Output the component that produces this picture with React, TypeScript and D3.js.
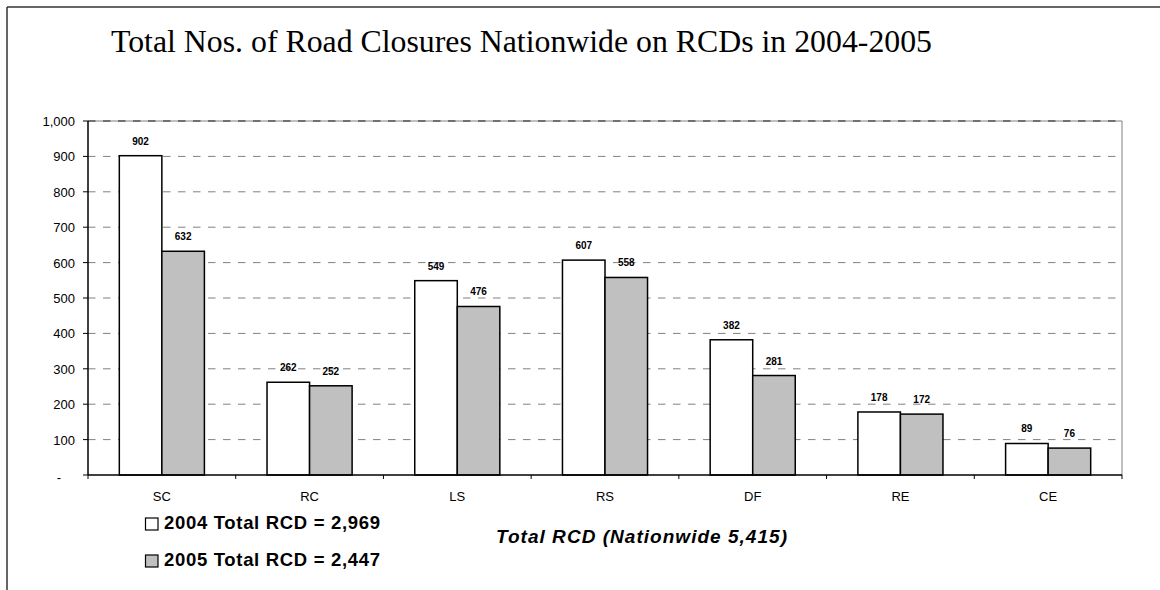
import React from "react";
import * as d3 from "d3";

const categories = ["SC", "RC", "LS", "RS", "DF", "RE", "CE"];
const series2004 = [902, 262, 549, 607, 382, 178, 89];
const series2005 = [632, 252, 476, 558, 281, 172, 76];
const yTicks = [0, 100, 200, 300, 400, 500, 600, 700, 800, 900, 1000];
const seriesNames = ["2004 Total RCD = 2,969", "2005 Total RCD = 2,447"];
const titleText = "Total Nos. of Road Closures Nationwide on RCDs in 2004-2005";
const axisTitle = "Total RCD (Nationwide 5,415)";

const W = 1160;
const H = 590;
const plot = { left: 88, right: 1122, top: 121, bottom: 475 };
const SANS = "Arial, 'Liberation Sans', sans-serif";
const SERIF = "'Liberation Serif', 'Times New Roman', Times, serif";

export default function App() {
  const x = d3
    .scaleBand<string>()
    .domain(categories)
    .range([plot.left, plot.right])
    .paddingInner(0)
    .paddingOuter(0);
  const groupFrac = 0.576;
  const inner = d3
    .scaleBand<string>()
    .domain(["2004", "2005"])
    .range([0, x.bandwidth() * groupFrac]);
  const y = d3.scaleLinear().domain([0, 1000]).range([plot.bottom, plot.top]);
  const fmt = d3.format(",");

  const groupOffset = (x.bandwidth() * (1 - groupFrac)) / 2;
  const data = categories.map((c, i) => ({
    c,
    vals: [
      { k: "2004", v: series2004[i], fill: "#FFFFFF" },
      { k: "2005", v: series2005[i], fill: "#C0C0C0" },
    ],
  }));

  const boundaries = categories.map((c) => x(c) as number).concat([plot.right]);

  return (
    <svg width={W} height={H} style={{ position: "absolute", left: 0, top: 0 }}>
      <rect x={0} y={0} width={W} height={H} fill="#fff" />
      {/* outer frame */}
      <line x1={7} y1={7} x2={W} y2={7} stroke="#333" strokeWidth={1.5} />
      <line x1={7} y1={7} x2={7} y2={H} stroke="#333" strokeWidth={1.5} />

      <text
        x={111}
        y={52}
        style={{ fontFamily: SERIF, fontSize: "31px" }}
        textLength={821}
        lengthAdjust="spacingAndGlyphs"
        fill="#000"
      >
        {titleText}
      </text>

      {/* plot area border */}
      <line x1={plot.left} y1={plot.top} x2={plot.right} y2={plot.top} stroke="#808080" strokeWidth={1} />
      <line x1={plot.right} y1={plot.top} x2={plot.right} y2={plot.bottom} stroke="#808080" strokeWidth={1} />

      {/* gridlines */}
      {yTicks
        .filter((t) => t > 0)
        .map((t) => (
          <line
            key={"g" + t}
            x1={plot.left}
            x2={plot.right}
            y1={y(t)}
            y2={y(t)}
            stroke={t === 1000 ? "#222" : "#808080"}
            strokeWidth={1}
            strokeDasharray="7.5,7.5"
          />
        ))}

      {/* bars */}
      {data.map((d) => (
        <g key={d.c}>
          {d.vals.map((s) => {
            const bx = (x(d.c) as number) + groupOffset + (inner(s.k) as number);
            const by = y(s.v);
            return (
              <g key={s.k}>
                <rect
                  x={bx}
                  y={by}
                  width={inner.bandwidth()}
                  height={plot.bottom - by}
                  fill={s.fill}
                  stroke="#000"
                  strokeWidth={1.5}
                />
                <text
                  x={bx + inner.bandwidth() / 2}
                  y={by - 11}
                  textAnchor="middle"
                  fontFamily={SANS}
                  fontWeight="bold"
                  fontSize={10}
                  fill="#000"
                >
                  {fmt(s.v)}
                </text>
              </g>
            );
          })}
        </g>
      ))}

      {/* y axis */}
      <line x1={plot.left} y1={plot.top} x2={plot.left} y2={plot.bottom} stroke="#000" strokeWidth={1.5} />
      {yTicks.map((t) => (
        <g key={"y" + t}>
          <line x1={plot.left - 5} x2={plot.left} y1={y(t)} y2={y(t)} stroke="#000" strokeWidth={1} />
          <text
            x={t === 0 ? 61 : 75}
            y={t === 0 ? y(t) + 6.5 : y(t) + 5}
            textAnchor="end"
            fontFamily={SANS}
            fontSize={13}
            fill="#000"
          >
            {t === 0 ? "-" : fmt(t)}
          </text>
        </g>
      ))}

      {/* x axis */}
      <line x1={plot.left} y1={plot.bottom} x2={plot.right} y2={plot.bottom} stroke="#000" strokeWidth={1.5} />
      {boundaries.map((b, i) => (
        <line key={"xt" + i} x1={b} x2={b} y1={plot.bottom} y2={plot.bottom + 4} stroke="#000" strokeWidth={1} />
      ))}
      {categories.map((c) => (
        <text
          key={"xl" + c}
          x={(x(c) as number) + x.bandwidth() / 2}
          y={501}
          textAnchor="middle"
          fontFamily={SANS}
          fontSize={13}
          fill="#000"
        >
          {c}
        </text>
      ))}

      {/* legend */}
      {seriesNames.map((n, i) => (
        <g key={n}>
          <rect
            x={145.5}
            y={518 + i * 37}
            width={12.5}
            height={12}
            fill={i === 0 ? "#FFFFFF" : "#C0C0C0"}
            stroke="#000"
            strokeWidth={1.2}
          />
          <text
            x={164}
            y={529 + i * 37}
            fontFamily={SANS}
            fontWeight="bold"
            fontSize={18.5}
            textLength={216}
            lengthAdjust="spacing"
            fill="#000"
          >
            {n}
          </text>
        </g>
      ))}

      <text
        x={496}
        y={542.5}
        fontFamily={SANS}
        fontWeight="bold"
        fontStyle="italic"
        fontSize={19}
        textLength={291}
        lengthAdjust="spacing"
        fill="#000"
      >
        {axisTitle}
      </text>
    </svg>
  );
}
